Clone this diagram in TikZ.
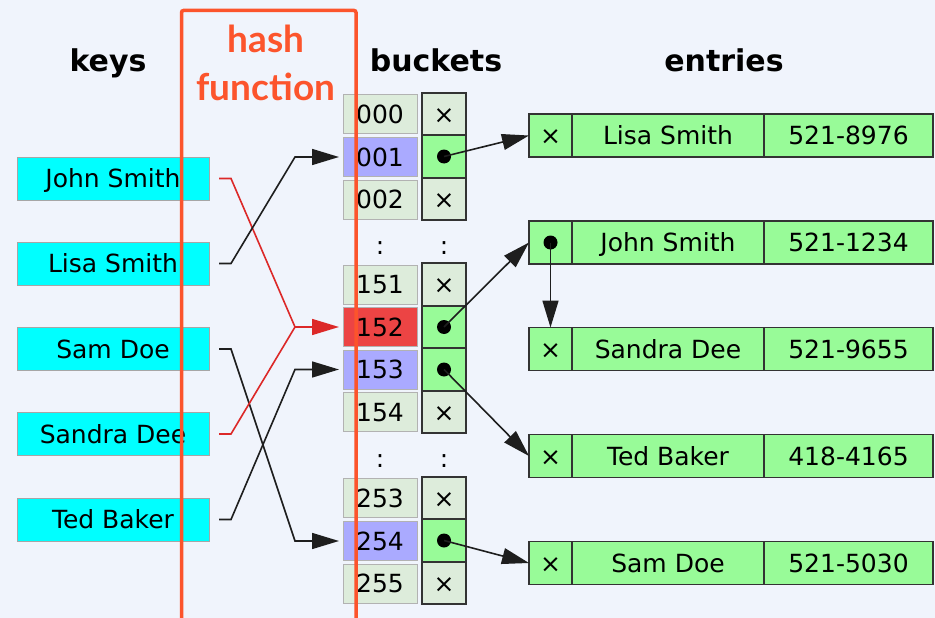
\documentclass[tikz,border=0pt]{standalone}
\usepackage{fontspec}
\setmainfont{DejaVu Sans}
\newfontfamily\hashfont{Lato}
\usetikzlibrary{arrows.meta}
\definecolor{bg}{RGB}{240,244,252}
\definecolor{keyfill}{RGB}{0,255,255}
\definecolor{cellfill}{RGB}{221,236,219}
\definecolor{lavender}{RGB}{170,170,255}
\definecolor{redcell}{RGB}{236,68,68}
\definecolor{ptrgreen}{RGB}{152,251,152}
\definecolor{linkgray}{RGB}{30,30,30}
\definecolor{linkred}{RGB}{220,40,40}
\definecolor{hashc}{RGB}{252,84,44}
\tikzset{
  txt/.style={font=\fontsize{25}{30}\selectfont, text height=18pt, text depth=0pt, inner sep=0pt, outer sep=0pt},
  keybox/.style={txt, fill=keyfill, draw=black!35, line width=0.8pt, minimum width=192pt, minimum height=43pt},
  numcell/.style={txt, fill=cellfill, draw=black!30, line width=0.8pt, minimum width=74pt, minimum height=39pt},
  ptrcell/.style={txt, fill=cellfill, draw=black!80, line width=1.8pt, minimum width=44pt, minimum height=42.5pt},
  ptrfull/.style={ptrcell, fill=ptrgreen},
  eptr/.style={txt, fill=ptrgreen, draw=black!80, line width=1.8pt, minimum width=43pt, minimum height=43pt},
  ename/.style={txt, fill=ptrgreen, draw=black!80, line width=1.8pt, minimum width=192pt, minimum height=43pt, anchor=west},
  enum/.style={txt, fill=ptrgreen, draw=black!80, line width=1.8pt, minimum width=169pt, minimum height=43pt, anchor=west},
  header/.style={font=\bfseries\fontsize{30}{36}\selectfont, anchor=base, inner sep=0pt},
  hashtxt/.style={font=\hashfont\bfseries\fontsize{37}{44}\selectfont, text=hashc, anchor=base, inner sep=0pt},
  link/.style={draw=linkgray, line width=1.6pt, -{Triangle[length=27pt,width=16pt]}},
  redlink/.style={draw=linkred, line width=1.6pt, -{Triangle[length=27pt,width=16pt]}},
  dotmark/.style={circle, fill=black, inner sep=0pt, minimum size=14pt},
  colon/.style={txt}
}
\begin{document}
\begin{tikzpicture}[x=1pt,y=-1pt]
\fill[bg] (0,0) rectangle (935,618);
\useasboundingbox (0,0) rectangle (935,618);

% headers
\node[header] (hkeys) at (108,71) {keys};
\node[header] (hbuck) at (436,71) {buckets};
\node[header] (hent) at (724,71) {entries};

% keys
\node[keybox] (k1) at (113,178.5) {John Smith};
\node[keybox] (k2) at (113,263.5) {Lisa Smith};
\node[keybox] (k3) at (113,349) {Sam Doe};
\node[keybox] (k4) at (113,434) {Sandra Dee};
\node[keybox] (k5) at (113,519.5) {Ted Baker};

% bucket numbers
\node[numcell] (b000) at (380,114) {000};
\node[numcell, fill=lavender] (b001) at (380,157) {001};
\node[numcell] (b002) at (380,199.5) {002};
\node[numcell] (b151) at (380,284.5) {151};
\node[numcell, fill=redcell] (b152) at (380,327) {152};
\node[numcell, fill=lavender] (b153) at (380,369.5) {153};
\node[numcell] (b154) at (380,412) {154};
\node[numcell] (b253) at (380,498) {253};
\node[numcell, fill=lavender] (b254) at (380,541) {254};
\node[numcell] (b255) at (380,583.5) {255};

% pointer cells
\node[ptrcell] (p000) at (444,114) {×};
\node[ptrfull] (p001) at (444,156.5) {};
\node[ptrcell] (p002) at (444,199) {×};
\node[ptrcell] (p151) at (444,284.5) {×};
\node[ptrfull] (p152) at (444,327) {};
\node[ptrfull] (p153) at (444,369.5) {};
\node[ptrcell] (p154) at (444,412) {×};
\node[ptrcell] (p253) at (444,498) {×};
\node[ptrfull] (p254) at (444,540.5) {};
\node[ptrcell] (p255) at (444,583) {×};

% colons
\node[colon] (c1a) at (380,245) {:};
\node[colon] (c1b) at (444,245) {:};
\node[colon] (c2a) at (380,458) {:};
\node[colon] (c2b) at (444,458) {:};

% entries
\node[eptr] (e1p) at (550.5,135.5) {×};
\node[ename] (e1n) at (e1p.east) {Lisa Smith};
\node[enum] (e1t) at (e1n.east) {521-8976};

\node[eptr] (e2p) at (550.5,242.5) {};
\node[ename] (e2n) at (e2p.east) {John Smith};
\node[enum] (e2t) at (e2n.east) {521-1234};

\node[eptr] (e3p) at (550.5,349) {×};
\node[ename] (e3n) at (e3p.east) {Sandra Dee};
\node[enum] (e3t) at (e3n.east) {521-9655};

\node[eptr] (e4p) at (550.5,456) {×};
\node[ename] (e4n) at (e4p.east) {Ted Baker};
\node[enum] (e4t) at (e4n.east) {418-4165};

\node[eptr] (e5p) at (550.5,563) {×};
\node[ename] (e5n) at (e5p.east) {Sam Doe};
\node[enum] (e5t) at (e5n.east) {521-5030};

% hash links
\draw[redlink, shorten >=4pt] ([xshift=10pt]k1.east) -- ++(12,0) -- ([xshift=-48pt]b152.west) -- (b152.west);
\draw[link, shorten >=4pt] ([xshift=10pt]k2.east) -- ++(12,0) -- ([xshift=-48pt]b001.west) -- (b001.west);
\draw[link, shorten >=4pt] ([xshift=10pt]k3.east) -- ++(12,0) -- ([xshift=-48pt]b254.west) -- (b254.west);
\draw[draw=linkred, line width=1.6pt] ([xshift=10pt]k4.east) -- ++(12,0) -- ([xshift=-48pt]b152.west);
\draw[link, shorten >=4pt] ([xshift=10pt]k5.east) -- ++(12,0) -- ([xshift=-48pt]b153.west) -- (b153.west);

% pointer dots
\node[dotmark] (d001) at (p001.center) {};
\node[dotmark] (d152) at (p152.center) {};
\node[dotmark] (d153) at (p153.center) {};
\node[dotmark] (d254) at (p254.center) {};
\node[dotmark] (de2) at (e2p.center) {};

% chain links
\draw[link] (d001.center) -- (e1p.west);
\draw[link] (d152.center) -- (e2p.west);
\draw[link] (d153.center) -- (e4p.west);
\draw[link] (d254.center) -- (e5p.west);
\draw[link] (de2.center) -- (e3p.north);

% hash function box
\draw[hashc, line width=3.5pt, rounded corners=2pt] (181.5,625) -- (181.5,10.5) -- (356,10.5) -- (356,625);
\node[hashtxt] (h1) at (266,53) {hash};
\node[hashtxt] (h2) at (266,100) {function};
\end{tikzpicture}
\end{document}
